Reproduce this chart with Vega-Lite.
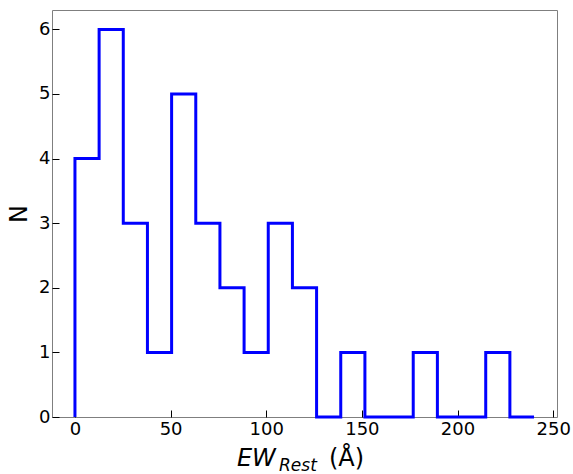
{
  "$schema": "https://vega.github.io/schema/vega-lite/v6.json",
  "width": 505,
  "height": 407,
  "autosize": "none",
  "padding": {"left": 52, "top": 10, "right": 16, "bottom": 57},
  "title": {
    "text": "Rest",
    "orient": "bottom",
    "anchor": "start",
    "frame": "group",
    "font": "DejaVu Sans",
    "fontSize": 17,
    "fontStyle": "italic",
    "fontWeight": "normal",
    "color": "#000000",
    "dx": 227,
    "dy": -17
  },
  "config": {
    "font": "DejaVu Sans",
    "view": {"stroke": "#7f7f7f", "strokeWidth": 1},
    "axis": {
      "domain": false,
      "grid": false,
      "tickColor": "#000000",
      "tickSize": -7,
      "tickWidth": 1,
      "labelFont": "DejaVu Sans",
      "labelFontSize": 18,
      "labelColor": "#000000",
      "titleFont": "DejaVu Sans",
      "titleColor": "#000000",
      "titleFontWeight": "normal"
    }
  },
  "data": {
    "values": [
      {"i": 0, "edge": 0, "n": 0},
      {"i": 1, "edge": 0, "n": 4},
      {"i": 2, "edge": 12.63, "n": 6},
      {"i": 3, "edge": 25.26, "n": 3},
      {"i": 4, "edge": 37.89, "n": 1},
      {"i": 5, "edge": 50.53, "n": 5},
      {"i": 6, "edge": 63.16, "n": 3},
      {"i": 7, "edge": 75.79, "n": 2},
      {"i": 8, "edge": 88.42, "n": 1},
      {"i": 9, "edge": 101.05, "n": 3},
      {"i": 10, "edge": 113.68, "n": 2},
      {"i": 11, "edge": 126.32, "n": 0},
      {"i": 12, "edge": 138.95, "n": 1},
      {"i": 13, "edge": 151.58, "n": 0},
      {"i": 14, "edge": 164.21, "n": 0},
      {"i": 15, "edge": 176.84, "n": 1},
      {"i": 16, "edge": 189.47, "n": 0},
      {"i": 17, "edge": 202.11, "n": 0},
      {"i": 18, "edge": 214.74, "n": 1},
      {"i": 19, "edge": 227.37, "n": 0},
      {"i": 20, "edge": 240, "n": 0}
    ]
  },
  "mark": {"type": "line", "interpolate": "step-after", "color": "#0000ff", "strokeWidth": 3, "clip": false},
  "encoding": {
    "x": {
      "field": "edge",
      "type": "quantitative",
      "scale": {"domain": [-12, 252], "nice": false, "zero": false},
      "axis": {
        "values": [0, 50, 100, 150, 200, 250],
        "labelPadding": 10,
        "title": "𝘌𝘞\u00a0\u00a0\u00a0\u00a0\u00a0\u00a0\u00a0(Å)",
        "titleFontSize": 24,
        "titleAlign": "left",
        "titleAnchor": "start",
        "titleBaseline": "alphabetic",
        "titleX": 184,
        "titleY": 48.5
      }
    },
    "y": {
      "field": "n",
      "type": "quantitative",
      "scale": {"domain": [0, 6.3], "nice": false},
      "axis": {
        "values": [0, 1, 2, 3, 4, 5, 6],
        "labelPadding": 9,
        "title": "N",
        "titleFontSize": 24,
        "titleBaseline": "alphabetic",
        "titleX": -26
      }
    },
    "order": {"field": "i"}
  }
}
